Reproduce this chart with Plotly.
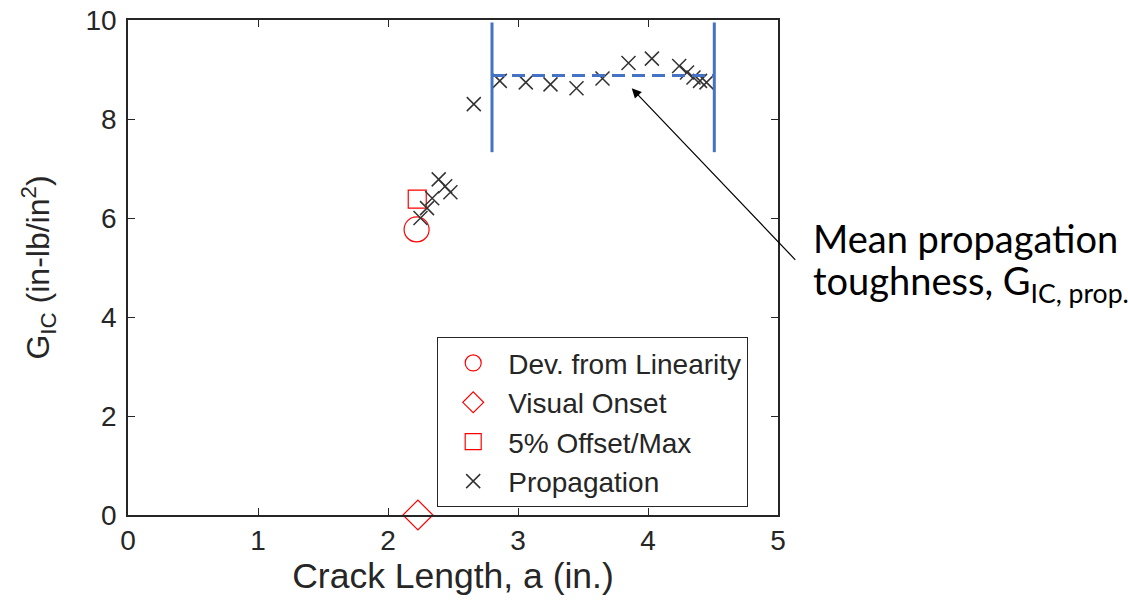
import plotly.graph_objects as go

# ---- data ----
dev_x = [2.22]
dev_y = [5.77]
vis_x = [2.23]
vis_y = [0.0]
off_x = [2.225]
off_y = [6.38]
prop_x = [2.25, 2.30, 2.34, 2.39, 2.44, 2.48, 2.66, 2.86, 3.06, 3.25, 3.45,
          3.65, 3.85, 4.03, 4.24, 4.30, 4.35, 4.40, 4.45]
prop_y = [6.00, 6.20, 6.40, 6.78, 6.64, 6.52, 8.30, 8.77, 8.74, 8.70, 8.62,
          8.82, 9.13, 9.22, 9.07, 8.94, 8.84, 8.77, 8.74]
mean_x = [2.80, 4.51]
mean_y = [8.88, 8.88]
bound_y = [7.33, 9.95]
x_ticks = [0, 1, 2, 3, 4, 5]
y_ticks = [0, 2, 4, 6, 8, 10]

# ---- layout constants ----
W, H = 1128, 616
ML, MT = 128, 20
PW, PH = 650, 495
MR = W - ML - PW
MB = H - MT - PH


def px(xp):
    return (xp - ML) / PW


def py(yp):
    return (H - MB - yp) / PH


AX = "#262626"
RED = "#FF0000"
BLUE = "#4472C4"
FONT = "Liberation Sans"

fig = go.Figure()

fig.add_trace(go.Scatter(x=dev_x, y=dev_y, mode="markers", name="Dev. from Linearity",
                         cliponaxis=False,
                         marker=dict(symbol="circle-open", size=25, color=RED, line=dict(width=1.2, color=RED))))
fig.add_trace(go.Scatter(x=vis_x, y=vis_y, mode="markers", name="Visual Onset",
                         cliponaxis=False,
                         marker=dict(symbol="diamond-open", size=23, color=RED, line=dict(width=1.2, color=RED))))
fig.add_trace(go.Scatter(x=off_x, y=off_y, mode="markers", name="5% Offset/Max",
                         cliponaxis=False,
                         marker=dict(symbol="square-open", size=18, color=RED, line=dict(width=1.2, color=RED))))
fig.add_trace(go.Scatter(x=prop_x, y=prop_y, mode="markers", name="Propagation",
                         cliponaxis=False,
                         marker=dict(symbol="x-thin-open", size=14, color="#333333",
                                     line=dict(width=1.5, color="#333333"))))

# mean line and bounds
fig.add_trace(go.Scatter(x=mean_x, y=mean_y, mode="lines", showlegend=False,
                         line=dict(color=BLUE, width=3, dash="13px,7px")))
for xb in mean_x:
    fig.add_trace(go.Scatter(x=[xb, xb], y=bound_y, mode="lines", showlegend=False,
                             cliponaxis=False,
                             line=dict(color=BLUE, width=3)))

axis_common = dict(
    showgrid=False, zeroline=False, showline=True, linecolor=AX, linewidth=1.5,
    mirror="ticks", ticks="inside", ticklen=7, tickwidth=1, tickcolor=AX,
    tickfont=dict(family=FONT, size=28, color=AX), ticklabeloverflow="allow",
)

fig.update_xaxes(range=[0, 5], tickvals=x_ticks, ticktext=[str(v) for v in x_ticks],
                 title=dict(text="Crack Length, a (in.)", font=dict(family=FONT, size=35.5, color=AX),
                            standoff=8),
                 **axis_common)
fig.update_yaxes(range=[0, 10], tickvals=y_ticks, ticktext=[str(v) for v in y_ticks],
                 ticklabelstandoff=4,
                 title=dict(text="G<sub>IC</sub> (in-lb/in<sup>2</sup>)",
                            font=dict(family=FONT, size=32, color=AX), standoff=26),
                 **axis_common)

# arrow
fig.add_annotation(x=3.875, y=8.62, xref="x", yref="y", ax=165, ay=173, axref="pixel", ayref="pixel",
                   text="", showarrow=True, arrowhead=2, arrowsize=1.6, arrowwidth=1.2,
                   arrowcolor="#000000", standoff=0)

# annotation text
fig.add_annotation(x=px(811), y=py(238), xref="paper", yref="paper", xanchor="left", yanchor="middle",
                   text="Mean propagation", showarrow=False,
                   font=dict(family="Lato", size=38, color="#000000"))
fig.add_annotation(x=px(811), y=py(283), xref="paper", yref="paper", xanchor="left", yanchor="middle",
                   text="toughness, G<sub>IC, prop.</sub>", showarrow=False,
                   font=dict(family="Lato", size=38, color="#000000"))

fig.update_layout(
    width=W, height=H,
    margin=dict(l=ML, r=MR, t=MT, b=MB, autoexpand=False),
    paper_bgcolor="white", plot_bgcolor="white",
    showlegend=True,
    legend=dict(x=px(437), y=py(337), xanchor="left", yanchor="top",
                bgcolor="white", bordercolor=AX, borderwidth=1.2,
                font=dict(family=FONT, size=28, color=AX),
                itemwidth=60, tracegroupgap=0),
)

fig.write_html("out.html", config={"displayModeBar": False},
               post_script="document.body.style.margin='0';")
